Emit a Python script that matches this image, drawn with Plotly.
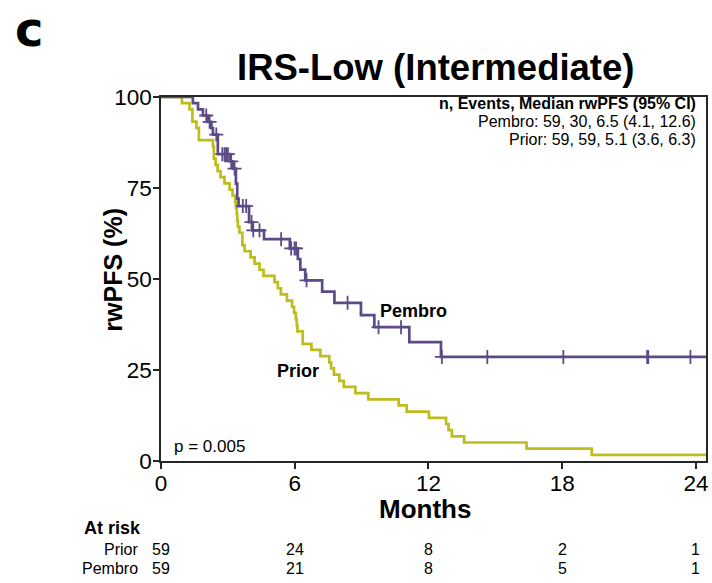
import plotly.graph_objects as go

# ---- data (months) ----
prior_event_months = [
    0.94, 1.28, 1.41, 1.41, 1.59, 1.70, 1.70, 2.33, 2.37, 2.37,
    2.45, 2.54, 2.67, 2.85, 3.08, 3.21, 3.33, 3.36, 3.40, 3.42,
    3.45, 3.52, 3.65, 3.65, 3.75, 4.02, 4.20, 4.42, 4.60, 5.09,
    5.24, 5.38, 5.65, 5.88, 5.97, 6.05, 6.09, 6.12, 6.36, 6.36,
    6.75, 7.15, 7.55, 7.63, 7.76, 8.00, 8.20, 8.72, 9.30, 10.66,
    11.02, 12.02, 12.79, 12.90, 13.05, 13.60, 16.40, 19.32, 24.90,
]
prior_censor_months = []

pembro_event_months = [
    1.43, 1.66, 1.88, 2.10, 2.26, 2.33, 2.55, 2.55, 2.55, 3.10,
    3.22, 3.36, 3.36, 3.42, 3.42, 3.48, 3.95, 3.95, 4.10, 4.62,
    5.78, 6.14, 6.25, 6.47, 7.23, 7.78, 8.97, 9.57, 11.14, 12.56,
]
pembro_censor_months = [
    2.03, 2.18, 2.48, 2.75, 2.85, 2.92, 3.00, 3.15, 3.30, 3.67,
    3.82, 4.06, 4.14, 4.42, 5.39, 5.84, 5.99, 6.06, 6.53, 8.37,
    9.76, 10.77, 12.60, 14.64, 18.05, 21.81, 21.86, 23.75, 24.60,
]

risk_months = [0, 6, 12, 18, 24]
prior_at_risk = [59, 24, 8, 2, 1]
pembro_at_risk = [59, 21, 8, 5, 1]

summary_header = "n, Events, Median rwPFS (95% CI)"
summary_pembro = "Pembro: 59, 30, 6.5 (4.1, 12.6)"
summary_prior = "Prior: 59, 59, 5.1 (3.6, 6.3)"
p_value_text = "p = 0.005"

PURPLE = "#5c4a86"
YELLOW = "#bdbe1e"
AXIS = "#262626"
FONT = "Liberation Sans, Arial, Helvetica, sans-serif"


def kaplan_meier(events, censors):
    """Return step coordinates and censor-mark positions (survival in %)."""
    times = sorted(set(events) | set(censors))
    n = len(events) + len(censors)
    s = 100.0
    xs, ys = [0.0], [100.0]
    cx, cy = [], []
    for t in times:
        d = events.count(t)
        c = censors.count(t)
        if d:
            s *= 1 - d / n
            xs.append(t)
            ys.append(s)
        if c:
            cx += [t] * c
            cy += [s] * c
        n -= d + c
    xs.append(times[-1])
    ys.append(s)
    return xs, ys, cx, cy


fig = go.Figure()

px_, py_, _, _ = kaplan_meier(prior_event_months, prior_censor_months)
fig.add_trace(go.Scatter(x=px_, y=py_, mode="lines", line_shape="hv",
                         line=dict(color=YELLOW, width=2.7), hoverinfo="skip"))

bx, by, bcx, bcy = kaplan_meier(pembro_event_months, pembro_censor_months)
fig.add_trace(go.Scatter(x=bx, y=by, mode="lines", line_shape="hv",
                         line=dict(color=PURPLE, width=2.7), hoverinfo="skip"))
fig.add_trace(go.Scatter(x=bcx, y=bcy, mode="markers",
                         marker=dict(symbol="cross-thin", size=10,
                                     line=dict(color=PURPLE, width=1.8)),
                         hoverinfo="skip"))

axis_common = dict(showline=True, linecolor=AXIS, linewidth=1.6, mirror=True,
                   ticks="outside", ticklen=6, tickwidth=1.6, tickcolor=AXIS,
                   showgrid=False, zeroline=False,
                   tickfont=dict(size=22.5, color="black", family=FONT))

fig.update_xaxes(range=[0, 24.45], tickvals=risk_months,
                 ticklabelstandoff=-5, **axis_common)
fig.update_yaxes(range=[0, 100], tickvals=[0, 25, 50, 75, 100],
                 ticklabelstandoff=-3, **axis_common)

ann = []
# panel letter and title
ann.append(dict(text="<b>c</b>", x=-0.243, y=1.186, xref="paper", yref="paper",
                showarrow=False,
                font=dict(size=48, family="DejaVu Sans, Liberation Sans, sans-serif",
                          color="black"),
                xanchor="center", yanchor="middle"))
ann.append(dict(text="<b>IRS-Low (Intermediate)</b>", x=0.503, y=1.08,
                xref="paper", yref="paper", showarrow=False,
                font=dict(size=36.5, family=FONT, color="black"),
                xanchor="center", yanchor="middle"))
# axis titles
ann.append(dict(text="<b>rwPFS (%)</b>", x=-0.0885, y=0.525, xref="paper",
                yref="paper", showarrow=False, textangle=-90,
                font=dict(size=25, family=FONT, color="black"),
                xanchor="center", yanchor="middle"))
ann.append(dict(text="<b>Months</b>", x=0.4845, y=-0.131, xref="paper",
                yref="paper", showarrow=False,
                font=dict(size=26, family=FONT, color="black"),
                xanchor="center", yanchor="middle"))
# summary box text
for txt, yy, bold in [(summary_header, 0.9835, True),
                      (summary_pembro, 0.9327, False),
                      (summary_prior, 0.8819, False)]:
    ann.append(dict(text=f"<b>{txt}</b>" if bold else txt, x=0.9835, y=yy,
                    xref="paper", yref="paper", showarrow=False,
                    font=dict(size=16, family=FONT, color="black"),
                    xanchor="right", yanchor="middle", borderpad=0))
# curve labels and p-value
ann.append(dict(text="<b>Pembro</b>", x=11.32, y=41.3, xref="x", yref="y",
                showarrow=False, font=dict(size=18, family=FONT, color="black"),
                xanchor="center", yanchor="middle"))
ann.append(dict(text="<b>Prior</b>", x=6.13, y=24.8, xref="x", yref="y",
                showarrow=False, font=dict(size=18, family=FONT, color="black"),
                xanchor="center", yanchor="middle"))
ann.append(dict(text=p_value_text, x=0.48, y=4.1, xref="x", yref="y",
                showarrow=False, font=dict(size=17, family=FONT, color="black"),
                xanchor="left", yanchor="middle"))
# number-at-risk table
ann.append(dict(text="<b>At risk</b>", x=-0.1444, y=-0.184, xref="paper",
                yref="paper", showarrow=False,
                font=dict(size=18, family=FONT, color="black"),
                xanchor="left", yanchor="middle"))
for label, counts, yy in [("Prior", prior_at_risk, -0.2418),
                          ("Pembro", pembro_at_risk, -0.294)]:
    ann.append(dict(text=label, x=-0.0384, y=yy, xref="paper", yref="paper",
                    showarrow=False, font=dict(size=16, family=FONT, color="black"),
                    xanchor="right", yanchor="middle"))
    for m, c in zip(risk_months, counts):
        ann.append(dict(text=str(c), x=m, y=yy, xref="x", yref="paper",
                        showarrow=False,
                        font=dict(size=16, family=FONT, color="black"),
                        xanchor="center", yanchor="middle"))

fig.update_layout(width=712, height=583,
                  margin=dict(l=161, r=4, t=97, b=122),
                  paper_bgcolor="white", plot_bgcolor="white",
                  showlegend=False, annotations=ann,
                  font=dict(family=FONT, color="black"))

fig.write_html("out.html")
